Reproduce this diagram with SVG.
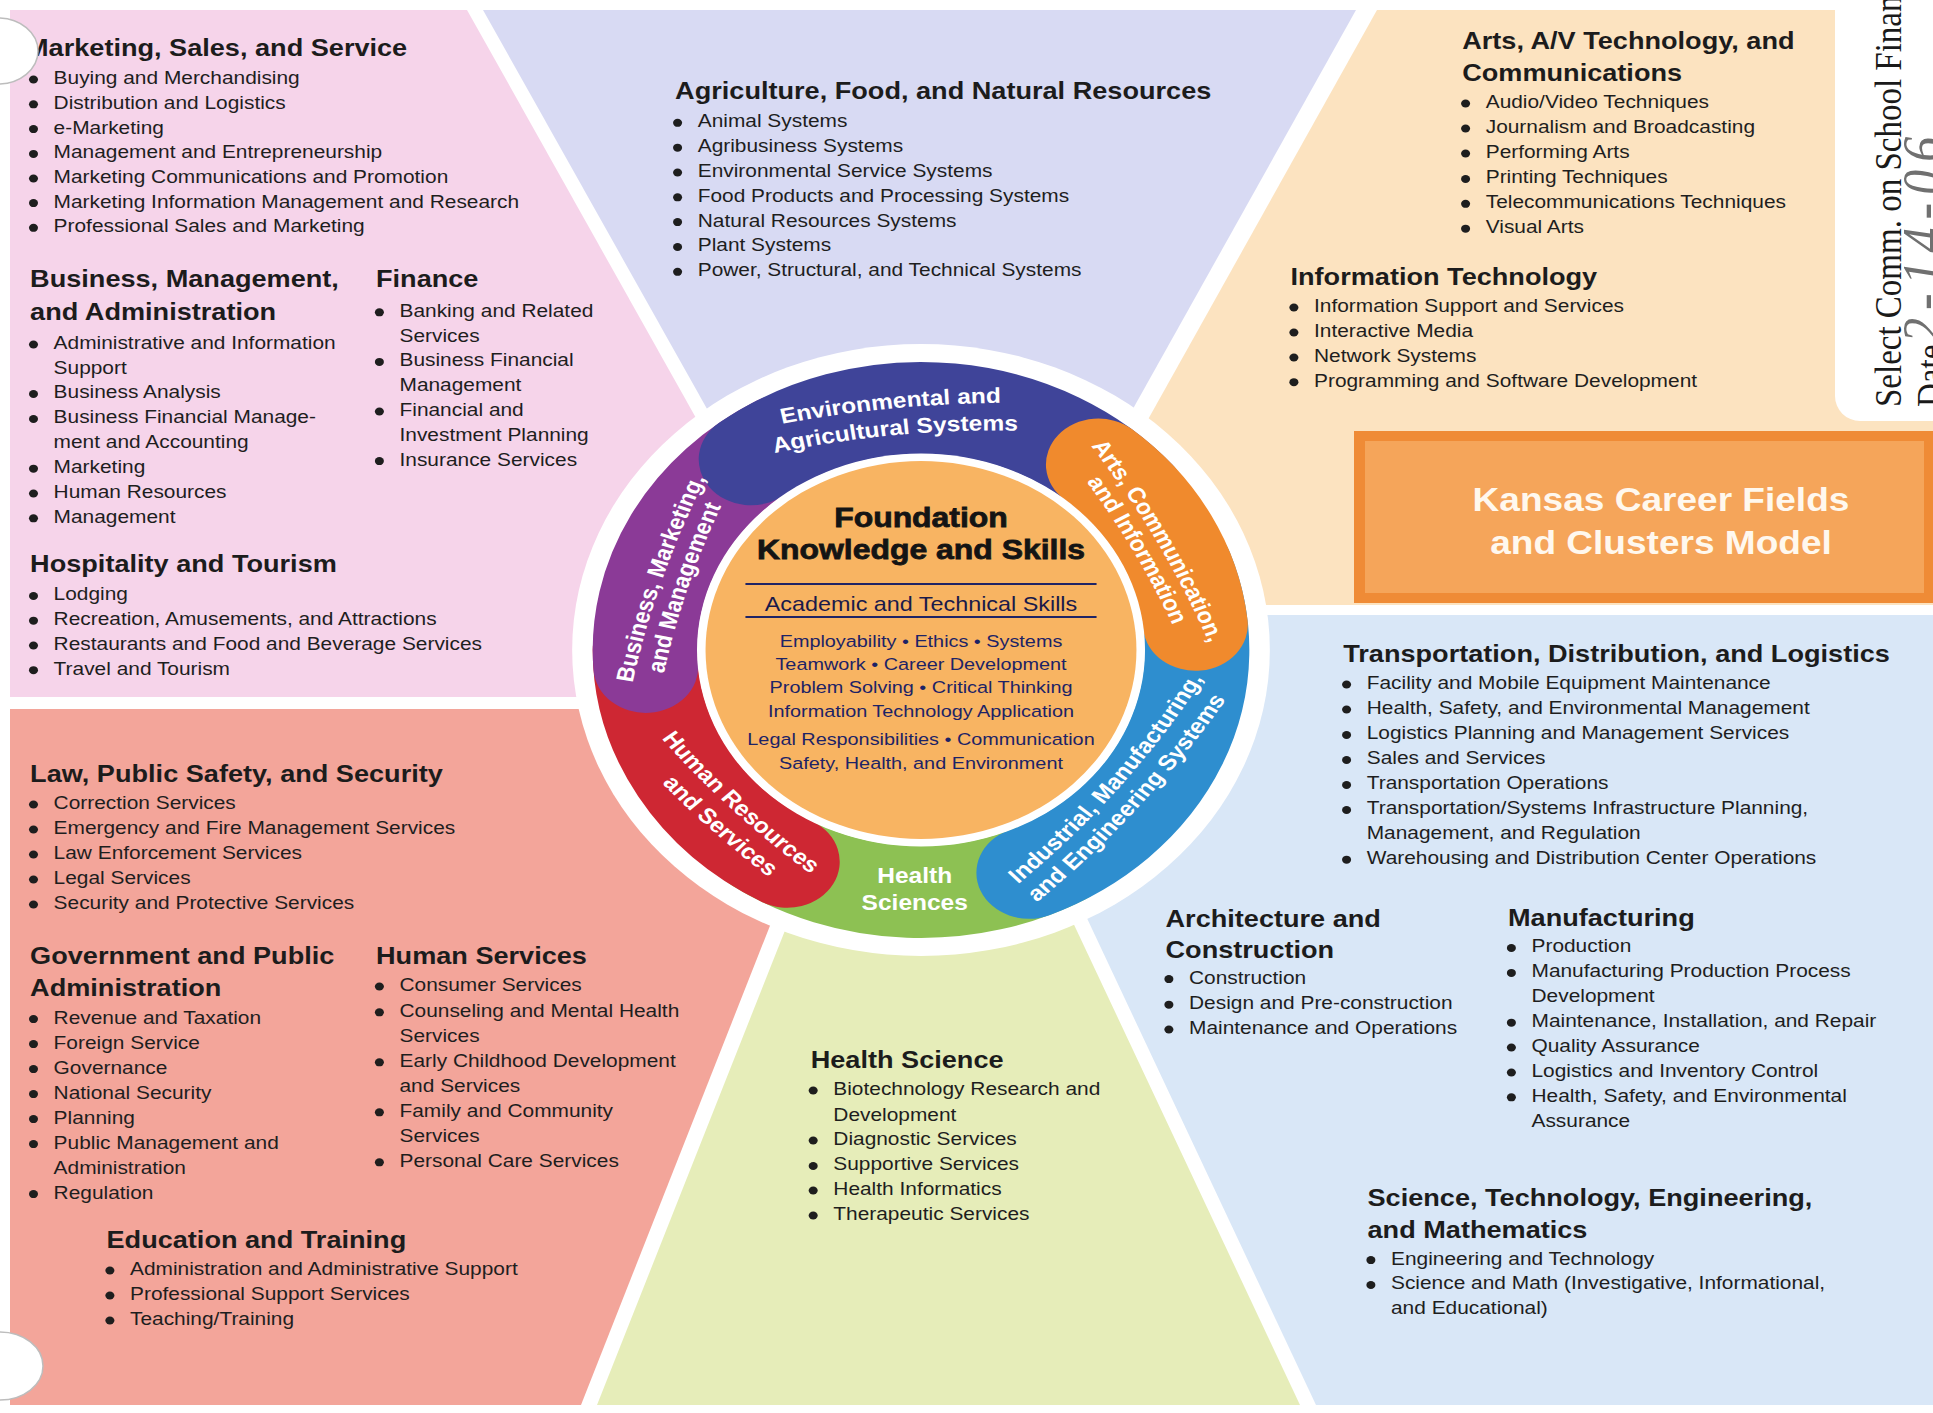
<svg xmlns="http://www.w3.org/2000/svg" width="1933" height="1413" viewBox="0 0 1933 1413">
<style>
text{font-family:"Liberation Sans",Arial,Helvetica,sans-serif}
.h{font-size:24px;font-weight:bold;fill:#1c1c1c}
.t{font-size:18.5px;fill:#1e1e1e}
.bu circle{fill:#1e1e1e}
.rt{font-size:21.5px;font-weight:bold;fill:#ffffff}
.fk{font-size:28px;font-weight:bold;fill:#141414;stroke:#141414;stroke-width:0.8;text-anchor:middle}
.ats{font-size:20.5px;fill:#1a1a4a;text-anchor:middle}
.sk{font-size:17.4px;fill:#1d2366;text-anchor:middle}
.arc{fill:none;stroke-width:92;stroke-linecap:round}
.kt{font-size:34px;font-weight:bold;fill:#fff8ee;text-anchor:middle}
.hole{fill:#ffffff;stroke:#bdbdbd;stroke-width:1.5}
</style>
<rect width="1933" height="1413" fill="#ffffff"/>
<g id="regions">
<polygon id="r-pink" points="10,10 467,10 705,434 705,697 10,697" fill="#F6D4EA"/>
<polygon id="r-lavender" points="483,10 1356,10 1120,432 720,432" fill="#D8DAF3"/>
<polygon id="r-peach" points="1377,10 1933,10 1933,605 1150,605 1141,432" fill="#FCE3C0"/>
<polygon id="r-blue" points="1150,615 1933,615 1933,1405 1316,1405 1069,880" fill="#D9E7F7"/>
<polygon id="r-green" points="805,880 1053,880 1300,1405 597,1405" fill="#E6EDB9"/>
<polygon id="r-salmon" points="10,709 700,709 788,880 581,1405 10,1405" fill="#F3A59A"/>
<path id="note-area" d="M1835,0 H1933 V421 H1860 A25,25 0 0 1 1835,396 Z" fill="#ffffff"/>
</g>
<g id="connectors"/>
<g id="title-box">
<rect x="1354" y="431" width="579" height="172" fill="#EF8B36"/>
<rect x="1365" y="441" width="559" height="152" fill="#F5A55A"/>
<g transform="translate(1661,0) scale(1.09,1)">
<text class="kt" x="0" y="511">Kansas Career Fields</text>
<text class="kt" x="0" y="554">and Clusters Model</text>
</g>
</g>
<g id="note">
<text transform="translate(1901,407) scale(1.13,1) rotate(-90)" font-size="33" fill="#1a1a1a" style="font-family:'Liberation Serif',serif">Select Comm. on School Finan</text>
<text transform="translate(1943,407) scale(1.13,1) rotate(-90)" font-size="33" fill="#1a1a1a" style="font-family:'Liberation Serif',serif">Date</text>
<text transform="translate(1942,343) scale(1.13,1) rotate(-90)" font-size="50" font-style="italic" letter-spacing="8" fill="#707070" style="font-family:'Liberation Serif',serif">2-14-06</text>
</g>

<g id="wheel" transform="translate(921,650) scale(1.14,1)">
<circle r="306" fill="#ffffff"/>
<path class="arc" d="M121,209.6 A242,242 0 0 1 -138.8,198.2" stroke="#8DC153" stroke-linecap="butt"/>
<path class="arc" d="M-117.3,211.7 A242,242 0 0 1 -242,0" stroke="#CE2733"/>
<path class="arc" d="M227.4,-82.8 A242,242 0 0 1 94.6,222.8" stroke="#2E8ECF"/>
<path class="arc" d="M-241.4,16.9 A242,242 0 0 1 -121,-209.6" stroke="#8B3A97"/>
<path class="arc" d="M-149,-190.7 A242,242 0 0 1 185.4,-155.6" stroke="#3F4499"/>
<path class="arc" d="M155.6,-185.4 A242,242 0 0 1 240.7,-25.3" stroke="#F08A2D"/>
<circle r="196.5" fill="#ffffff"/>
<circle r="189" fill="#F8B462"/>
<defs>
<path id="pn1" d="M-183.3,-211.2 A972,972 0 0 1 133.3,-245.6"/>
<path id="pn2" d="M-179.1,-183.6 A864,864 0 0 1 137.3,-216.8"/>
<path id="po1" d="M120.7,-243.1 A934,934 0 0 1 268.7,38.7"/>
<path id="po2" d="M98.9,-232.1 A844,844 0 0 1 247.3,49.3"/>
<path id="pp1" d="M-261.6,84.8 A950,950 0 0 1 -166.3,-219.1"/>
<path id="pp2" d="M-236.1,95.1 A854.8,854.8 0 0 1 -144.7,-209.4"/>
<path id="pb1" d="M64,253.3 A886.4,886.4 0 0 0 261.3,3.7"/>
<path id="pb2" d="M80.4,271.6 A988,988 0 0 0 282.1,25.1"/>
<path id="pr1" d="M-266.2,35.6 A920,920 0 0 0 -45.2,264.4"/>
<path id="pr2" d="M-285.7,60.3 A1028,1028 0 0 0 -60.5,285.6"/>
</defs>
<g id="seg-env">
<text class="rt" font-size="20.5"><textPath href="#pn1" startOffset="50%" text-anchor="middle">Environmental and</textPath></text>
<text class="rt" font-size="20.5"><textPath href="#pn2" startOffset="50%" text-anchor="middle">Agricultural Systems</textPath></text>
</g>
<g id="seg-arts">
<text class="rt"><textPath href="#po1" startOffset="50%" text-anchor="middle">Arts, Communication,</textPath></text>
<text class="rt"><textPath href="#po2" startOffset="50%" text-anchor="middle">and Information</textPath></text>
</g>
<g id="seg-business">
<text class="rt"><textPath href="#pp1" startOffset="50%" text-anchor="middle">Business, Marketing,</textPath></text>
<text class="rt"><textPath href="#pp2" startOffset="50%" text-anchor="middle">and Management</textPath></text>
</g>
<g id="seg-industrial">
<text class="rt"><textPath href="#pb1" startOffset="50%" text-anchor="middle">Industrial, Manufacturing,</textPath></text>
<text class="rt"><textPath href="#pb2" startOffset="50%" text-anchor="middle">and Engineering Systems</textPath></text>
</g>
<g id="seg-human">
<text class="rt"><textPath href="#pr1" startOffset="50%" text-anchor="middle">Human Resources</textPath></text>
<text class="rt"><textPath href="#pr2" startOffset="50%" text-anchor="middle">and Services</textPath></text>
</g>
<g id="seg-health">
<text class="rt" x="-5.5" y="233" text-anchor="middle" font-size="21">Health</text>
<text class="rt" x="-5.5" y="260" text-anchor="middle" font-size="21">Sciences</text>
</g>
<g id="foundation">
<text class="fk" x="0" y="-123">Foundation</text>
<text class="fk" x="0" y="-91">Knowledge and Skills</text>
<line x1="-154" y1="-66" x2="154" y2="-66" stroke="#1f2466" stroke-width="2.2"/>
<text class="ats" x="0" y="-39.5">Academic and Technical Skills</text>
<line x1="-154" y1="-33" x2="154" y2="-33" stroke="#1f2466" stroke-width="2.2"/>
<text class="sk" x="0" y="-3.5">Employability • Ethics • Systems</text>
<text class="sk" x="0" y="20.5">Teamwork • Career Development</text>
<text class="sk" x="0" y="43.5">Problem Solving • Critical Thinking</text>
<text class="sk" x="0" y="67">Information Technology Application</text>
<text class="sk" x="0" y="95">Legal Responsibilities • Communication</text>
<text class="sk" x="0" y="119">Safety, Health, and Environment</text>
</g>
</g>

<g id="marketing" transform="translate(53.6,0) scale(1.13,1)">
<text class="h" x="-24.4" y="56">Marketing, Sales, and Service</text>
<g class="bu"><circle cx="-17.8" cy="79.5" r="4"/><circle cx="-17.8" cy="104.3" r="4"/><circle cx="-17.8" cy="129.1" r="4"/><circle cx="-17.8" cy="153.9" r="4"/><circle cx="-17.8" cy="178.5" r="4"/><circle cx="-17.8" cy="203.1" r="4"/><circle cx="-17.8" cy="227.8" r="4"/></g>
<text class="t"><tspan x="0" y="84">Buying and Merchandising</tspan><tspan x="0" y="108.8">Distribution and Logistics</tspan><tspan x="0" y="133.6">e-Marketing</tspan><tspan x="0" y="158.4">Management and Entrepreneurship</tspan><tspan x="0" y="183">Marketing Communications and Promotion</tspan><tspan x="0" y="207.6">Marketing Information Management and Research</tspan><tspan x="0" y="232.3">Professional Sales and Marketing</tspan></text>
</g>

<g id="business" transform="translate(53.6,0) scale(1.13,1)">
<text class="h"><tspan x="-20.8" y="287">Business, Management,</tspan><tspan x="-20.8" y="320.5">and Administration</tspan></text>
<g class="bu"><circle cx="-17.8" cy="344.5" r="4"/><circle cx="-17.8" cy="394" r="4"/><circle cx="-17.8" cy="419" r="4"/><circle cx="-17.8" cy="468.7" r="4"/><circle cx="-17.8" cy="493.5" r="4"/><circle cx="-17.8" cy="518.3" r="4"/></g>
<text class="t"><tspan x="0" y="349">Administrative and Information</tspan><tspan x="0" y="374">Support</tspan><tspan x="0" y="398.5">Business Analysis</tspan><tspan x="0" y="423.5">Business Financial Manage-</tspan><tspan x="0" y="448.3">ment and Accounting</tspan><tspan x="0" y="473.2">Marketing</tspan><tspan x="0" y="498">Human Resources</tspan><tspan x="0" y="522.8">Management</tspan></text>
</g>

<g id="finance" transform="translate(399.5,0) scale(1.13,1)">
<text class="h" x="-20.8" y="287">Finance</text>
<g class="bu"><circle cx="-17.8" cy="312.3" r="4"/><circle cx="-17.8" cy="361.9" r="4"/><circle cx="-17.8" cy="411.5" r="4"/><circle cx="-17.8" cy="461.1" r="4"/></g>
<text class="t"><tspan x="0" y="316.8">Banking and Related</tspan><tspan x="0" y="341.6">Services</tspan><tspan x="0" y="366.4">Business Financial</tspan><tspan x="0" y="391.2">Management</tspan><tspan x="0" y="416">Financial and</tspan><tspan x="0" y="440.8">Investment Planning</tspan><tspan x="0" y="465.6">Insurance Services</tspan></text>
</g>

<g id="hospitality" transform="translate(53.6,0) scale(1.13,1)">
<text class="h" x="-20.8" y="571.6">Hospitality and Tourism</text>
<g class="bu"><circle cx="-17.8" cy="596" r="4"/><circle cx="-17.8" cy="620.7" r="4"/><circle cx="-17.8" cy="645.5" r="4"/><circle cx="-17.8" cy="670.2" r="4"/></g>
<text class="t"><tspan x="0" y="600.5">Lodging</tspan><tspan x="0" y="625.2">Recreation, Amusements, and Attractions</tspan><tspan x="0" y="650">Restaurants and Food and Beverage Services</tspan><tspan x="0" y="674.7">Travel and Tourism</tspan></text>
</g>

<g id="agriculture" transform="translate(697.7,0) scale(1.13,1)">
<text class="h" x="-20" y="98.7">Agriculture, Food, and Natural Resources</text>
<g class="bu"><circle cx="-17.8" cy="122.8" r="4"/><circle cx="-17.8" cy="147.7" r="4"/><circle cx="-17.8" cy="172.5" r="4"/><circle cx="-17.8" cy="197.3" r="4"/><circle cx="-17.8" cy="222.1" r="4"/><circle cx="-17.8" cy="247" r="4"/><circle cx="-17.8" cy="271.8" r="4"/></g>
<text class="t"><tspan x="0" y="127.3">Animal Systems</tspan><tspan x="0" y="152.2">Agribusiness Systems</tspan><tspan x="0" y="177">Environmental Service Systems</tspan><tspan x="0" y="201.8">Food Products and Processing Systems</tspan><tspan x="0" y="226.6">Natural Resources Systems</tspan><tspan x="0" y="251.5">Plant Systems</tspan><tspan x="0" y="276.3">Power, Structural, and Technical Systems</tspan></text>
</g>

<g id="arts" transform="translate(1485.7,0) scale(1.13,1)">
<text class="h"><tspan x="-20.8" y="49.4">Arts, A/V Technology, and</tspan><tspan x="-20.8" y="81">Communications</tspan></text>
<g class="bu"><circle cx="-17.8" cy="103.5" r="4"/><circle cx="-17.8" cy="128.5" r="4"/><circle cx="-17.8" cy="153.5" r="4"/><circle cx="-17.8" cy="179" r="4"/><circle cx="-17.8" cy="203.8" r="4"/><circle cx="-17.8" cy="228.7" r="4"/></g>
<text class="t"><tspan x="0" y="108">Audio/Video Techniques</tspan><tspan x="0" y="133">Journalism and Broadcasting</tspan><tspan x="0" y="158">Performing Arts</tspan><tspan x="0" y="183.5">Printing Techniques</tspan><tspan x="0" y="208.3">Telecommunications Techniques</tspan><tspan x="0" y="233.2">Visual Arts</tspan></text>
</g>

<g id="info-tech" transform="translate(1314,0) scale(1.13,1)">
<text class="h" x="-20.8" y="284.7">Information Technology</text>
<g class="bu"><circle cx="-17.8" cy="307.5" r="4"/><circle cx="-17.8" cy="332.5" r="4"/><circle cx="-17.8" cy="357.5" r="4"/><circle cx="-17.8" cy="382.2" r="4"/></g>
<text class="t"><tspan x="0" y="312">Information Support and Services</tspan><tspan x="0" y="337">Interactive Media</tspan><tspan x="0" y="362">Network Systems</tspan><tspan x="0" y="386.7">Programming and Software Development</tspan></text>
</g>

<g id="transportation" transform="translate(1366.7,0) scale(1.13,1)">
<text class="h" x="-20.8" y="662">Transportation, Distribution, and Logistics</text>
<g class="bu"><circle cx="-17.8" cy="684.5" r="4"/><circle cx="-17.8" cy="709.5" r="4"/><circle cx="-17.8" cy="735" r="4"/><circle cx="-17.8" cy="760" r="4"/><circle cx="-17.8" cy="785" r="4"/><circle cx="-17.8" cy="810" r="4"/><circle cx="-17.8" cy="859.7" r="4"/></g>
<text class="t"><tspan x="0" y="689">Facility and Mobile Equipment Maintenance</tspan><tspan x="0" y="714">Health, Safety, and Environmental Management</tspan><tspan x="0" y="739.5">Logistics Planning and Management Services</tspan><tspan x="0" y="764.5">Sales and Services</tspan><tspan x="0" y="789.5">Transportation Operations</tspan><tspan x="0" y="814.5">Transportation/Systems Infrastructure Planning,</tspan><tspan x="0" y="839.3">Management, and Regulation</tspan><tspan x="0" y="864.2">Warehousing and Distribution Center Operations</tspan></text>
</g>

<g id="architecture" transform="translate(1189,0) scale(1.13,1)">
<text class="h"><tspan x="-20.8" y="926.6">Architecture and</tspan><tspan x="-20.8" y="957.7">Construction</tspan></text>
<g class="bu"><circle cx="-17.8" cy="979.1" r="4"/><circle cx="-17.8" cy="1004.7" r="4"/><circle cx="-17.8" cy="1029.5" r="4"/></g>
<text class="t"><tspan x="0" y="983.6">Construction</tspan><tspan x="0" y="1009.2">Design and Pre-construction</tspan><tspan x="0" y="1034">Maintenance and Operations</tspan></text>
</g>

<g id="manufacturing" transform="translate(1531.5,0) scale(1.13,1)">
<text class="h" x="-20.8" y="925.6">Manufacturing</text>
<g class="bu"><circle cx="-17.8" cy="948" r="4"/><circle cx="-17.8" cy="972.9" r="4"/><circle cx="-17.8" cy="1022.7" r="4"/><circle cx="-17.8" cy="1047.5" r="4"/><circle cx="-17.8" cy="1072.5" r="4"/><circle cx="-17.8" cy="1097.3" r="4"/></g>
<text class="t"><tspan x="0" y="952.5">Production</tspan><tspan x="0" y="977.4">Manufacturing Production Process</tspan><tspan x="0" y="1002.3">Development</tspan><tspan x="0" y="1027.2">Maintenance, Installation, and Repair</tspan><tspan x="0" y="1052">Quality Assurance</tspan><tspan x="0" y="1077">Logistics and Inventory Control</tspan><tspan x="0" y="1101.8">Health, Safety, and Environmental</tspan><tspan x="0" y="1126.7">Assurance</tspan></text>
</g>

<g id="stem" transform="translate(1391,0) scale(1.13,1)">
<text class="h"><tspan x="-20.8" y="1206.5">Science, Technology, Engineering,</tspan><tspan x="-20.8" y="1237.6">and Mathematics</tspan></text>
<g class="bu"><circle cx="-17.8" cy="1260.1" r="4"/><circle cx="-17.8" cy="1285" r="4"/></g>
<text class="t"><tspan x="0" y="1264.6">Engineering and Technology</tspan><tspan x="0" y="1289.5">Science and Math (Investigative, Informational,</tspan><tspan x="0" y="1314.4">and Educational)</tspan></text>
</g>

<g id="health-science" transform="translate(833.3,0) scale(1.13,1)">
<text class="h" x="-20" y="1068.3">Health Science</text>
<g class="bu"><circle cx="-17.8" cy="1090.5" r="4"/><circle cx="-17.8" cy="1140.5" r="4"/><circle cx="-17.8" cy="1166" r="4"/><circle cx="-17.8" cy="1190.5" r="4"/><circle cx="-17.8" cy="1215.5" r="4"/></g>
<text class="t"><tspan x="0" y="1095">Biotechnology Research and</tspan><tspan x="0" y="1120.7">Development</tspan><tspan x="0" y="1145">Diagnostic Services</tspan><tspan x="0" y="1170.5">Supportive Services</tspan><tspan x="0" y="1195">Health Informatics</tspan><tspan x="0" y="1220">Therapeutic Services</tspan></text>
</g>

<g id="law" transform="translate(53.6,0) scale(1.13,1)">
<text class="h" x="-20.8" y="781.8">Law, Public Safety, and Security</text>
<g class="bu"><circle cx="-17.8" cy="804.5" r="4"/><circle cx="-17.8" cy="829.5" r="4"/><circle cx="-17.8" cy="854.5" r="4"/><circle cx="-17.8" cy="879.5" r="4"/><circle cx="-17.8" cy="904.5" r="4"/></g>
<text class="t"><tspan x="0" y="809">Correction Services</tspan><tspan x="0" y="834">Emergency and Fire Management Services</tspan><tspan x="0" y="859">Law Enforcement Services</tspan><tspan x="0" y="884">Legal Services</tspan><tspan x="0" y="909">Security and Protective Services</tspan></text>
</g>

<g id="government" transform="translate(53.6,0) scale(1.13,1)">
<text class="h"><tspan x="-20.8" y="964.5">Government and Public</tspan><tspan x="-20.8" y="996.4">Administration</tspan></text>
<g class="bu"><circle cx="-17.8" cy="1019.1" r="4"/><circle cx="-17.8" cy="1044.1" r="4"/><circle cx="-17.8" cy="1069.1" r="4"/><circle cx="-17.8" cy="1094.1" r="4"/><circle cx="-17.8" cy="1119.1" r="4"/><circle cx="-17.8" cy="1144.1" r="4"/><circle cx="-17.8" cy="1194.1" r="4"/></g>
<text class="t"><tspan x="0" y="1023.6">Revenue and Taxation</tspan><tspan x="0" y="1048.6">Foreign Service</tspan><tspan x="0" y="1073.6">Governance</tspan><tspan x="0" y="1098.6">National Security</tspan><tspan x="0" y="1123.6">Planning</tspan><tspan x="0" y="1148.6">Public Management and</tspan><tspan x="0" y="1173.6">Administration</tspan><tspan x="0" y="1198.6">Regulation</tspan></text>
</g>

<g id="human-services" transform="translate(399.5,0) scale(1.13,1)">
<text class="h" x="-20.8" y="963.6">Human Services</text>
<g class="bu"><circle cx="-17.8" cy="986.5" r="4"/><circle cx="-17.8" cy="1012.3" r="4"/><circle cx="-17.8" cy="1062.3" r="4"/><circle cx="-17.8" cy="1112.3" r="4"/><circle cx="-17.8" cy="1162.3" r="4"/></g>
<text class="t"><tspan x="0" y="991">Consumer Services</tspan><tspan x="0" y="1016.8">Counseling and Mental Health</tspan><tspan x="0" y="1041.8">Services</tspan><tspan x="0" y="1066.8">Early Childhood Development</tspan><tspan x="0" y="1091.8">and Services</tspan><tspan x="0" y="1116.8">Family and Community</tspan><tspan x="0" y="1141.8">Services</tspan><tspan x="0" y="1166.8">Personal Care Services</tspan></text>
</g>

<g id="education" transform="translate(130,0) scale(1.13,1)">
<text class="h" x="-20.8" y="1247.7">Education and Training</text>
<g class="bu"><circle cx="-17.8" cy="1270.5" r="4"/><circle cx="-17.8" cy="1295.5" r="4"/><circle cx="-17.8" cy="1320.5" r="4"/></g>
<text class="t"><tspan x="0" y="1275">Administration and Administrative Support</tspan><tspan x="0" y="1300">Professional Support Services</tspan><tspan x="0" y="1325">Teaching/Training</tspan></text>
</g>

<g id="punch-holes">
<ellipse class="hole" cx="-2" cy="51" rx="40" ry="33"/>
<ellipse class="hole" cx="0" cy="1366" rx="43" ry="34"/>
</g>
</svg>
